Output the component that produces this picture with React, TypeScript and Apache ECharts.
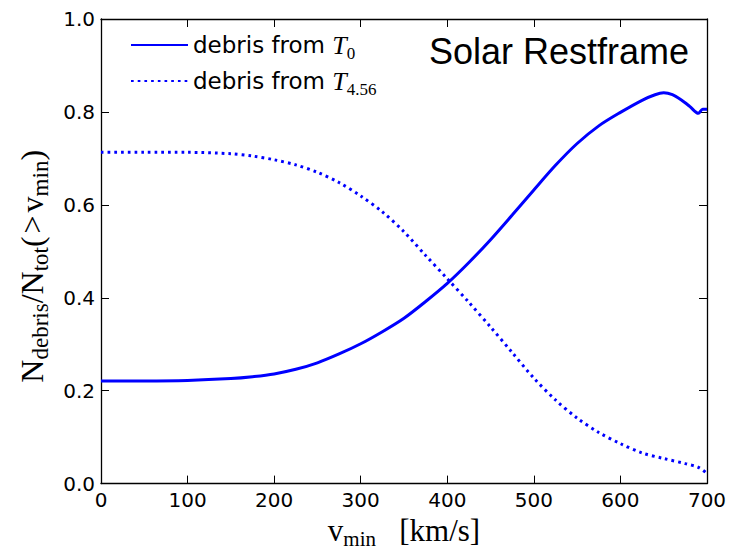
import React, { useEffect, useRef } from "react";
import * as echarts from "echarts";

const vmin = [0, 50, 100, 150, 175, 200, 225, 250, 275, 300, 325, 350, 375, 400, 425, 450, 475, 500, 525, 550, 575, 600, 625, 640, 650, 660, 670, 680, 690, 695, 700];
const debrisT0 = [0.221, 0.221, 0.222, 0.226, 0.23, 0.236, 0.246, 0.26, 0.279, 0.301, 0.327, 0.356, 0.392, 0.431, 0.476, 0.525, 0.578, 0.632, 0.685, 0.732, 0.77, 0.799, 0.825, 0.837, 0.841, 0.837, 0.826, 0.812, 0.797, 0.806, 0.806];
const vminB = [0, 50, 100, 150, 175, 200, 225, 250, 275, 300, 325, 350, 375, 400, 425, 450, 475, 500, 525, 550, 575, 600, 625, 650, 675, 690, 700];
const debrisT456 = [0.713, 0.713, 0.713, 0.71, 0.705, 0.697, 0.686, 0.67, 0.648, 0.619, 0.585, 0.542, 0.491, 0.441, 0.39, 0.337, 0.282, 0.227, 0.18, 0.141, 0.11, 0.086, 0.066, 0.054, 0.043, 0.035, 0.022];

const seriesNames = ["T0", "T4.56"];
const subs: Record<string, string> = { T0: "0", "T4.56": "4.56" };

export default function App() {
  const ref = useRef<HTMLDivElement>(null);
  useEffect(() => {
    if (!ref.current) return;
    const chart = echarts.init(ref.current, undefined, { renderer: "svg" });
    const black = "#000";
    const tickFont = { fontFamily: "DejaVu Sans", fontSize: 20, color: black };
    const baseX = {
      type: "value" as const,
      min: 0,
      max: 700,
      interval: 100,
      splitLine: { show: false },
      axisLine: { show: true, onZero: false, lineStyle: { color: black, width: 1.3 } },
      axisTick: { show: true, inside: true, length: 8, lineStyle: { color: black, width: 1 } },
    };
    const baseY = {
      type: "value" as const,
      min: 0,
      max: 1,
      interval: 0.2,
      splitLine: { show: false },
      axisLine: { show: true, onZero: false, lineStyle: { color: black, width: 1.3 } },
      axisTick: { show: true, inside: true, length: 8, lineStyle: { color: black, width: 1 } },
    };
    const serif = "Liberation Serif";
    chart.setOption({
      animation: false,
      backgroundColor: "#fff",
      grid: { left: 101, right: 32, top: 19, bottom: 65, containLabel: false },
      xAxis: [
        {
          ...baseX,
          position: "bottom",
          axisLabel: { ...tickFont, margin: 6 },
          name: "{v|v}{s|min}{v|   [km/s]}",
          nameLocation: "middle",
          nameGap: 22,
          nameTextStyle: {
            rich: {
              v: { fontFamily: serif, fontSize: 31, color: black, lineHeight: 38 },
              s: { fontFamily: serif, fontSize: 21, color: black, lineHeight: 38, verticalAlign: "bottom" },
            },
          },
        },
        { ...baseX, position: "top", axisLabel: { show: false } },
      ],
      yAxis: [
        {
          ...baseY,
          position: "left",
          axisLabel: { ...tickFont, margin: 6, formatter: (v: number) => v.toFixed(1) },
          name: "{v|N}{s|debris}{v|/N}{s|tot}{v|(}{g|>}{v|v}{s|min}{v|)}",
          nameLocation: "middle",
          nameRotate: 90,
          nameGap: 44,
          nameTextStyle: {
            padding: [0, 30, 0, 0],
            rich: {
              v: { fontFamily: serif, fontSize: 32, color: black, lineHeight: 40 },
              g: { fontFamily: serif, fontSize: 32, color: black, lineHeight: 40, padding: [0, 3, 0, 3] },
              s: { fontFamily: serif, fontSize: 23, color: black, lineHeight: 40, verticalAlign: "bottom" },
            },
          },
        },
        { ...baseY, position: "right", axisLabel: { show: false } },
      ],
      legend: {
        orient: "vertical",
        left: 125,
        top: 27,
        itemWidth: 57,
        itemHeight: 14,
        itemGap: 6,
        itemStyle: { color: "rgba(0,0,0,0)", borderColor: "rgba(0,0,0,0)", borderWidth: 0 },
        data: seriesNames,
        formatter: (name: string) => `{n|debris from }{t|T}{s|${subs[name]}}`,
        textStyle: {
          rich: {
            n: { fontFamily: "DejaVu Sans", fontSize: 23, color: black, lineHeight: 34 },
            t: { fontFamily: serif, fontStyle: "italic", fontSize: 26, color: black, lineHeight: 34 },
            s: { fontFamily: serif, fontSize: 17, color: black, lineHeight: 34, verticalAlign: "bottom" },
          },
        },
      },
      graphic: [
        {
          type: "text",
          right: 50,
          top: 33,
          style: { text: "Solar Restframe", fontFamily: "Liberation Sans", fontSize: 36, fill: black },
        },
      ],
      series: [
        {
          name: "T0",
          type: "line",
          symbol: "none",
          smooth: 0.3,
          data: vmin.map((v, i) => [v, debrisT0[i]]),
          lineStyle: { color: "#0000ff", width: 3 },
          itemStyle: { color: "#0000ff" },
        },
        {
          name: "T4.56",
          type: "line",
          symbol: "none",
          smooth: 0.3,
          data: vminB.map((v, i) => [v, debrisT456[i]]),
          lineStyle: { color: "#0000ff", width: 3, type: [2.7, 4], cap: "butt" },
          itemStyle: { color: "#0000ff" },
        },
      ],
    });
    return () => chart.dispose();
  }, []);
  return <div ref={ref} style={{ position: "absolute", left: 0, top: 0, width: 739, height: 554 }} />;
}
